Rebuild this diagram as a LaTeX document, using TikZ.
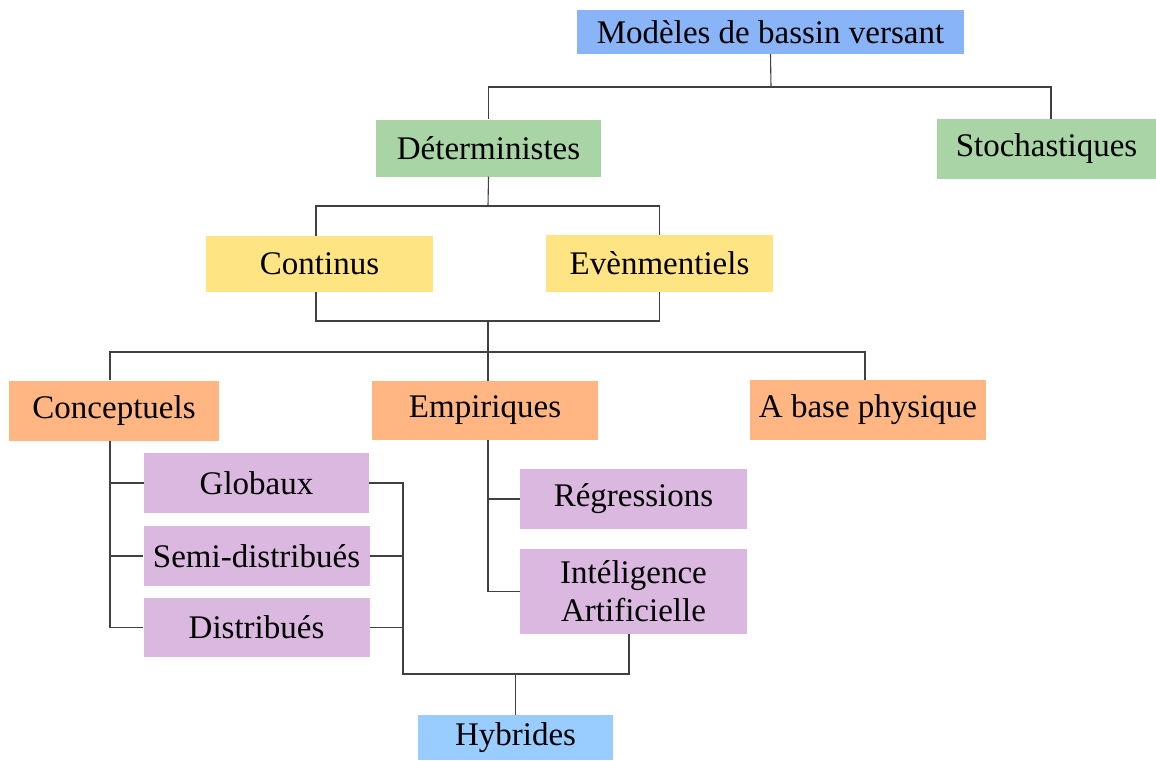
\documentclass[tikz,border=0pt]{standalone}
\usepackage{fontspec}
\setmainfont{Liberation Serif}
\usepackage{tikz}
\usetikzlibrary{positioning}

\definecolor{cTop}{HTML}{8AB4F8}
\definecolor{cGreen}{HTML}{A8D4A6}
\definecolor{cYellow}{HTML}{FFE484}
\definecolor{cOrange}{HTML}{FFB682}
\definecolor{cPurple}{HTML}{DAB8E0}
\definecolor{cHyb}{HTML}{99CCFF}

\begin{document}
\begin{tikzpicture}[x=1pt, y=-1pt,
		box/.style={draw=none, inner sep=0pt, align=center,
			font=\fontsize{33}{38}\selectfont},
		link/.style={draw=black!75, line width=1.1pt}]
		\useasboundingbox (0,0) rectangle (1156,760);
		% boxes
		\node[box, fill=cTop, minimum width=387, minimum height=44] (modeles) at (770.5,32) {Modèles de bassin versant};
		\node[box, fill=cGreen, minimum width=225, minimum height=57] (determ) at (488.5,148) {Déterministes};
		\node[box, fill=cGreen, minimum width=219, minimum height=60] (stoch) at (1046.5,149) {Stochastiques};
		\node[box, fill=cYellow, minimum width=227, minimum height=56] (cont) at (319.5,264) {Continus};
		\node[box, fill=cYellow, minimum width=227, minimum height=57] (even) at (659.5,263.5) {Evènmentiels};
		\node[box, fill=cOrange, minimum width=210, minimum height=60] (concep) at (114,410.5) {Conceptuels};
		\node[box, fill=cOrange, minimum width=226, minimum height=59] (empir) at (485,410.5) {Empiriques};
		\node[box, fill=cOrange, minimum width=236, minimum height=60] (abase) at (868,410) {A base physique};
		\node[box, fill=cPurple, minimum width=225, minimum height=60] (glob) at (256.5,483) {Globaux};
		\node[box, fill=cPurple, minimum width=226, minimum height=60] (semi) at (256.5,556) {Semi-distribués};
		\node[box, fill=cPurple, minimum width=226, minimum height=59] (distr) at (256.5,627.5) {Distribués};
		\node[box, fill=cPurple, minimum width=227, minimum height=60] (regr) at (633.5,499) {Régressions};
		\node[box, fill=cPurple, minimum width=227, minimum height=85] (intel) at (633.5,591.5) {Intéligence\\Artificielle};
		\node[box, fill=cHyb, minimum width=195, minimum height=45] (hyb) at (515.5,737.5) {Hybrides};
		% junctions
		\coordinate (j1) at (771,87);
		\coordinate (j2) at (488,206);
		\coordinate (j3) at (488,321);
		\coordinate (j4) at (488,352);
		\coordinate (ctr) at (110,0);
		\coordinate (etr) at (488,0);
		\coordinate (htr) at (403,0);
		\coordinate (hj) at (516,674);
		% connectors
		\draw[link] (modeles.south) -- (j1);
		\draw[link] (determ.north) |- (j1) -| (stoch.north -| 1051,0);
		\draw[link] (determ.south) -- (j2);
		\draw[link] (cont.north -| 316,0) |- (j2) -| (even.north);
		\draw[link] (cont.south -| 316,0) |- (j3) -| (even.south);
		\draw[link] (j3) -- (j4);
		\draw[link] (concep.north -| ctr) |- (j4) -| (abase.north -| 865,0);
		\draw[link] (j4) -- (empir.north -| etr);
		\draw[link] (concep.south -| ctr) |- (distr.west);
		\draw[link] (glob.west) -- (glob.west -| ctr);
		\draw[link] (semi.west) -- (semi.west -| ctr);
		\draw[link] (empir.south -| etr) |- (intel.west);
		\draw[link] (regr.west) -- (regr.west -| etr);
		\draw[link] (glob.east) -| (hj -| htr) -| (intel.south -| 629,0);
		\draw[link] (semi.east) -- (semi.east -| htr);
		\draw[link] (distr.east) -- (distr.east -| htr);
		\draw[link] (hyb.north) -- (hyb.north |- hj);
\end{tikzpicture}
\end{document}
